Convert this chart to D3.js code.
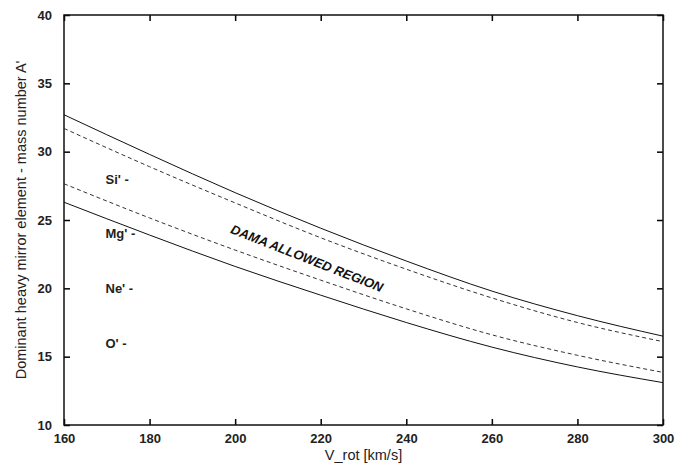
<!DOCTYPE html>
<html>
<head>
<meta charset="utf-8">
<script src="https://cdn.jsdelivr.net/npm/d3@7"></script>
<style>
  body { margin: 0; background: #fff; }
  text { font-family: "Liberation Sans", Arial, sans-serif; fill: #111; }
</style>
</head>
<body>
<svg width="681" height="465"></svg>
<script>

// rotation velocity grid (km/s)
const vRot = [160, 180, 200, 220, 240, 260, 280, 300];

// boundaries of the allowed region (mass number A')
const upperSolid  = [32.7, 29.8, 27.0, 24.4, 22.0, 19.8, 18.0, 16.5];
const upperDashed = [31.7, 28.9, 26.25, 23.7, 21.4, 19.3, 17.5, 16.1];
const lowerDashed = [27.65, 25.15, 22.8, 20.6, 18.5, 16.6, 15.1, 13.85];
const lowerSolid  = [26.3, 23.9, 21.6, 19.5, 17.5, 15.7, 14.25, 13.1];

const xTicks = [160, 180, 200, 220, 240, 260, 280, 300];
const yTicks = [10, 15, 20, 25, 30, 35, 40];

// mirror element markers
const elements = ["Si'", "Mg'", "Ne'", "O'"];
const elementA = [28, 24, 20, 16];

const svg = d3.select("svg");

const mLeft = 64, mRight = 663, mTop = 15, mBottom = 425;

const x = d3.scaleLinear().domain([160, 300]).range([mLeft, mRight]);
const y = d3.scaleLinear().domain([10, 40]).range([mBottom, mTop]);

const tickLen = 6;

// ticks (gnuplot style, pointing inward, mirrored)
svg.append("g")
  .attr("transform", `translate(0,${mBottom})`)
  .call(d3.axisBottom(x).tickValues(xTicks).tickSize(-tickLen).tickPadding(9).tickFormat(d3.format("d")))
  .call(g => g.select(".domain").remove())
  .call(g => g.selectAll("text").style("font-size", "13px").style("font-weight", "bold").style("fill", "#222"));

svg.append("g")
  .attr("transform", `translate(0,${mTop})`)
  .call(d3.axisTop(x).tickValues(xTicks).tickSize(-tickLen).tickFormat(""))
  .call(g => g.select(".domain").remove());

svg.append("g")
  .attr("transform", `translate(${mLeft},0)`)
  .call(d3.axisLeft(y).tickValues(yTicks).tickSize(-tickLen).tickPadding(12).tickFormat(d3.format("d")))
  .call(g => g.select(".domain").remove())
  .call(g => g.selectAll("text").style("font-size", "13px").style("font-weight", "bold").style("fill", "#222"));

svg.append("g")
  .attr("transform", `translate(${mRight},0)`)
  .call(d3.axisRight(y).tickValues(yTicks).tickSize(-tickLen).tickFormat(""))
  .call(g => g.select(".domain").remove());

svg.selectAll(".tick line").style("stroke", "#000").style("stroke-width", 1.5);

// frame
svg.append("rect")
  .attr("x", mLeft).attr("y", mTop)
  .attr("width", mRight - mLeft).attr("height", mBottom - mTop)
  .style("fill", "none")
  .style("stroke", "#111")
  .style("stroke-width", 1.5);

// curves
const line = d3.line()
  .x((d, i) => x(vRot[i]))
  .y(d => y(d))
  .curve(d3.curveMonotoneX);

const curves = [
  {vals: upperSolid, dash: null},
  {vals: upperDashed, dash: "4,3"},
  {vals: lowerDashed, dash: "4,3"},
  {vals: lowerSolid, dash: null}
];

svg.selectAll(".curve").data(curves).enter().append("path")
  .attr("class", "curve")
  .attr("d", d => line(d.vals))
  .style("fill", "none")
  .style("stroke", d => d.dash ? "#333" : "#111")
  .style("stroke-width", 1)
  .style("stroke-dasharray", d => d.dash);

// element labels
svg.selectAll(".elem").data(elements).enter().append("text")
  .attr("class", "elem")
  .attr("x", x(169.7))
  .attr("y", (d, i) => y(elementA[i]))
  .attr("dy", "0.35em")
  .style("font-size", "13px")
  .style("font-weight", "bold")
  .style("fill", "#222")
  .text(d => d + " -");

// region label
svg.append("text")
  .attr("transform", `translate(${x(216.8)},${y(22.2)}) rotate(21.5)`)
  .attr("text-anchor", "middle")
  .attr("dy", "0.35em")
  .style("font-size", "13px")
  .style("font-style", "italic")
  .style("font-weight", "bold")
  .style("fill", "#111")
  .text("DAMA ALLOWED REGION");

// axis titles
svg.append("text")
  .attr("x", (mLeft + mRight) / 2)
  .attr("y", 460)
  .attr("text-anchor", "middle")
  .style("font-size", "14.5px")
  .style("fill", "#222")
  .text("V_rot [km/s]");

svg.append("text")
  .attr("transform", `translate(26,${(mTop + mBottom) / 2}) rotate(-90)`)
  .attr("text-anchor", "middle")
  .style("font-size", "14.5px")
  .style("fill", "#222")
  .text("Dominant heavy mirror element - mass number A'");

</script>
</body>
</html>
